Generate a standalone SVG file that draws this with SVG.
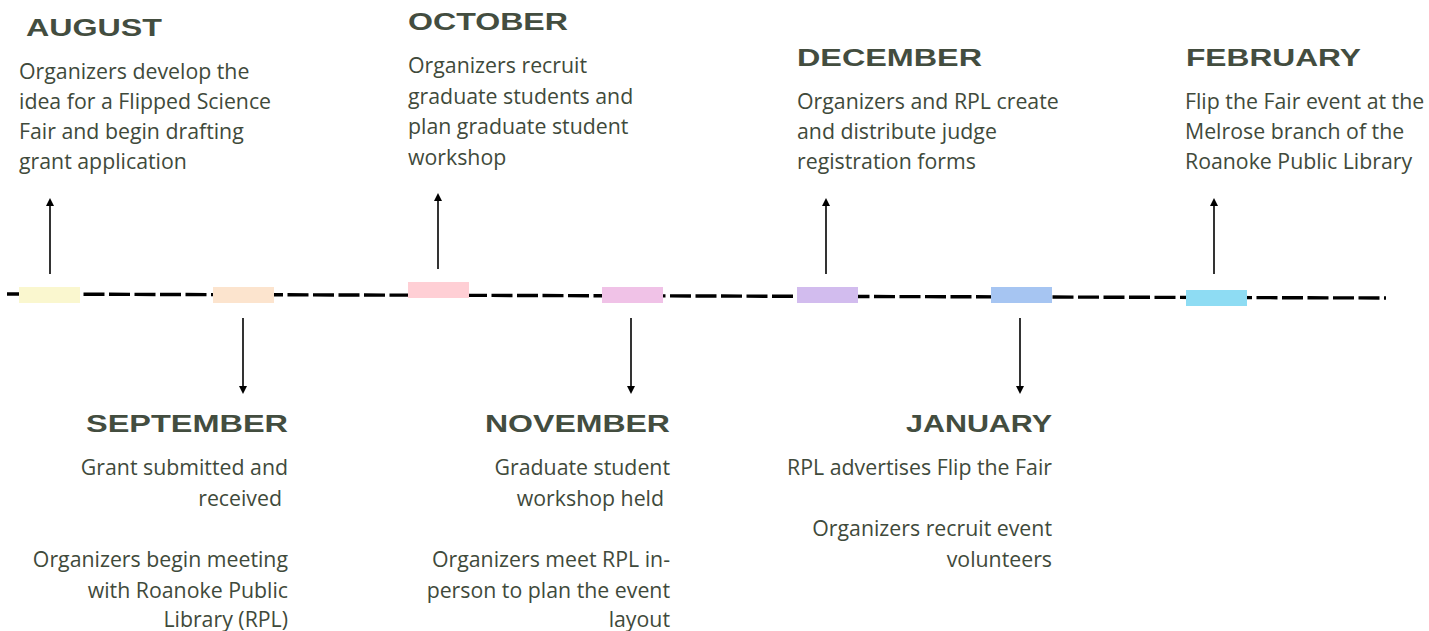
<svg xmlns="http://www.w3.org/2000/svg" width="1429" height="631" viewBox="0 0 1429 631">
<style>
.h{font-family:"Liberation Sans",Arial,sans-serif;font-weight:bold;font-size:24px;fill:#434d3f}
.b{font-family:"Open Sans","Liberation Sans",sans-serif;font-size:21.3px;fill:#3f4a3b}
.e{text-anchor:end}
.ar{stroke:#000;stroke-width:1.6;fill:none}
</style>
<defs>
<marker id="ah" viewBox="0 0 10 10" refX="5" refY="5" markerWidth="8" markerHeight="8" markerUnits="userSpaceOnUse" orient="auto">
<path d="M0,0 L10,5 L0,10 Z" fill="#000"/>
</marker>
</defs>
<rect width="1429" height="631" fill="#fff"/>
<g id="connectors">
<line x1="7" y1="294" x2="1386" y2="298" stroke="#000" stroke-width="3.4" stroke-dasharray="21 4.5"/>
<line class="ar" x1="50" y1="274" x2="50" y2="202" marker-end="url(#ah)"/>
<line class="ar" x1="243" y1="318" x2="243" y2="390" marker-end="url(#ah)"/>
<line class="ar" x1="438" y1="269" x2="438" y2="197" marker-end="url(#ah)"/>
<line class="ar" x1="631" y1="318" x2="631" y2="390" marker-end="url(#ah)"/>
<line class="ar" x1="826" y1="274" x2="826" y2="202" marker-end="url(#ah)"/>
<line class="ar" x1="1020" y1="318" x2="1020" y2="390" marker-end="url(#ah)"/>
<line class="ar" x1="1214" y1="274" x2="1214" y2="202" marker-end="url(#ah)"/>
</g>
<g id="aug">
<rect x="19" y="287" width="61" height="16" fill="#faf7cf"/>
<text class="h" x="26" y="36" textLength="136" lengthAdjust="spacingAndGlyphs">AUGUST</text>
<text class="b" x="19"><tspan x="19" y="79">Organizers develop the</tspan><tspan x="19" y="109">idea for a Flipped Science</tspan><tspan x="19" y="139">Fair and begin drafting</tspan><tspan x="19" y="169">grant application</tspan></text>
</g>
<g id="sep">
<rect x="213" y="287" width="61" height="16" fill="#fce4ce"/>
<text class="h e" x="288" y="432" textLength="202" lengthAdjust="spacingAndGlyphs">SEPTEMBER</text>
<text class="b e"><tspan x="288" y="475">Grant submitted and</tspan><tspan x="282" y="506">received</tspan><tspan x="288" y="567">Organizers begin meeting</tspan><tspan x="288" y="598">with Roanoke Public</tspan><tspan x="288" y="627">Library (RPL)</tspan></text>
</g>
<g id="oct">
<rect x="408" y="282" width="61" height="16" fill="#ffcfd5"/>
<text class="h" x="408" y="30" textLength="160" lengthAdjust="spacingAndGlyphs">OCTOBER</text>
<text class="b"><tspan x="408" y="73">Organizers recruit</tspan><tspan x="408" y="104">graduate students and</tspan><tspan x="408" y="134">plan graduate student</tspan><tspan x="408" y="165">workshop</tspan></text>
</g>
<g id="nov">
<rect x="602" y="287" width="61" height="16" fill="#f0c2e7"/>
<text class="h e" x="670" y="432" textLength="185" lengthAdjust="spacingAndGlyphs">NOVEMBER</text>
<text class="b e"><tspan x="670" y="475">Graduate student</tspan><tspan x="664" y="506">workshop held</tspan><tspan x="670" y="567">Organizers meet RPL in-</tspan><tspan x="670" y="598">person to plan the event</tspan><tspan x="670" y="627">layout</tspan></text>
</g>
<g id="dec">
<rect x="797" y="287" width="61" height="16" fill="#d2bcee"/>
<text class="h" x="797" y="66" textLength="185" lengthAdjust="spacingAndGlyphs">DECEMBER</text>
<text class="b"><tspan x="797" y="109">Organizers and RPL create</tspan><tspan x="797" y="139">and distribute judge</tspan><tspan x="797" y="169">registration forms</tspan></text>
</g>
<g id="jan">
<rect x="991" y="287" width="61" height="16" fill="#a6c5f2"/>
<text class="h e" x="1052" y="432" textLength="146" lengthAdjust="spacingAndGlyphs">JANUARY</text>
<text class="b e"><tspan x="1052" y="475">RPL advertises Flip the Fair</tspan><tspan x="1052" y="536">Organizers recruit event</tspan><tspan x="1052" y="567">volunteers</tspan></text>
</g>
<g id="feb">
<rect x="1186" y="290" width="61" height="16" fill="#8edcf3"/>
<text class="h" x="1186" y="66" textLength="175" lengthAdjust="spacingAndGlyphs">FEBRUARY</text>
<text class="b"><tspan x="1185" y="109">Flip the Fair event at the</tspan><tspan x="1185" y="139">Melrose branch of the</tspan><tspan x="1185" y="169">Roanoke Public Library</tspan></text>
</g>
</svg>
